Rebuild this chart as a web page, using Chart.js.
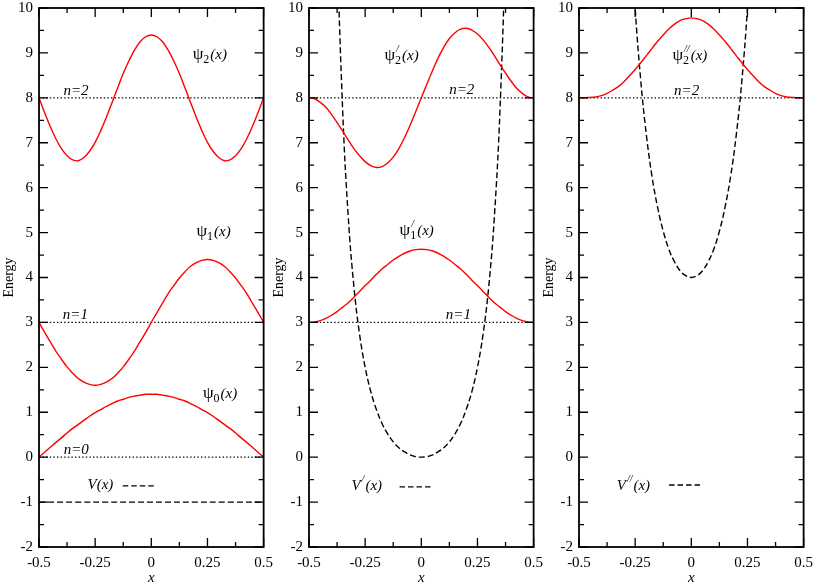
<!DOCTYPE html>
<html>
<head>
<meta charset="utf-8">
<script src="https://cdn.jsdelivr.net/npm/chart.js@4.4.1/dist/chart.umd.min.js"></script>
<style>
  html, body { margin: 0; padding: 0; background: #fff; overflow: hidden; width: 817px; height: 584px; }
  .panel { position: absolute; top: -7px; }
</style>
</head>
<body>
<canvas class="panel" id="p1" width="280" height="591" style="left:0px"></canvas>
<canvas class="panel" id="p2" width="280" height="591" style="left:270px"></canvas>
<canvas class="panel" id="p3" width="280" height="591" style="left:540px"></canvas>
<script>
// sample positions, x from -0.5 to 0.5
const xValues = [-0.5, -0.475, -0.45, -0.425, -0.4, -0.375, -0.35, -0.325, -0.3, -0.275, -0.25,
  -0.225, -0.2, -0.175, -0.15, -0.125, -0.1, -0.075, -0.05, -0.025, 0,
  0.025, 0.05, 0.075, 0.1, 0.125, 0.15, 0.175, 0.2, 0.225, 0.25,
  0.275, 0.3, 0.325, 0.35, 0.375, 0.4, 0.425, 0.45, 0.475, 0.5];

// left panel
const psi0 = [0.00, 0.11, 0.22, 0.33, 0.43, 0.54, 0.64, 0.73, 0.82, 0.91, 0.99, 1.06, 1.13, 1.19, 1.25, 1.29, 1.33, 1.36, 1.38, 1.40,
  1.40, 1.40, 1.38, 1.36, 1.33, 1.29, 1.25, 1.19, 1.13, 1.06, 0.99, 0.91, 0.82, 0.73, 0.64, 0.54, 0.43, 0.33, 0.22, 0.11, 0.00];
const psi1 = [3.00, 2.78, 2.57, 2.36, 2.18, 2.01, 1.87, 1.75, 1.67, 1.62, 1.60, 1.62, 1.67, 1.75, 1.87, 2.01, 2.18, 2.36, 2.57, 2.78,
  3.00, 3.22, 3.43, 3.64, 3.82, 3.99, 4.13, 4.25, 4.33, 4.38, 4.40, 4.38, 4.33, 4.25, 4.13, 3.99, 3.82, 3.64, 3.43, 3.22, 3.00];
const psi2 = [8.00, 7.67, 7.36, 7.09, 6.87, 6.71, 6.62, 6.60, 6.67, 6.81, 7.01, 7.27, 7.57, 7.89, 8.22, 8.54, 8.82, 9.06, 9.25, 9.36,
  9.40, 9.36, 9.25, 9.06, 8.82, 8.54, 8.22, 7.89, 7.57, 7.27, 7.01, 6.81, 6.67, 6.60, 6.62, 6.71, 6.87, 7.09, 7.36, 7.67, 8.00];
const potV = [-1, -1];          // flat well floor, drawn at the two ends
const potVX = [-0.5, 0.5];

// middle panel
const psiP1 = [3.00, 3.01, 3.04, 3.09, 3.16, 3.24, 3.34, 3.44, 3.56, 3.69, 3.82, 3.94, 4.07, 4.19, 4.29, 4.39, 4.47, 4.54, 4.59, 4.62,
  4.63, 4.62, 4.59, 4.54, 4.47, 4.39, 4.29, 4.19, 4.07, 3.94, 3.82, 3.69, 3.56, 3.44, 3.34, 3.24, 3.16, 3.09, 3.04, 3.01, 3.00];
const psiP2 = [8.00, 7.98, 7.90, 7.79, 7.63, 7.45, 7.26, 7.06, 6.87, 6.71, 6.58, 6.49, 6.45, 6.47, 6.55, 6.68, 6.87, 7.11, 7.39, 7.69,
  8.00, 8.31, 8.61, 8.89, 9.13, 9.32, 9.45, 9.53, 9.55, 9.51, 9.42, 9.29, 9.13, 8.94, 8.74, 8.55, 8.37, 8.21, 8.10, 8.02, 8.00];
const potVP = [null, null, null, null, 18.94, 11.66, 7.70, 5.33, 3.79, 2.74, 2.00, 1.46, 1.06, 0.75, 0.52, 0.34, 0.21, 0.12, 0.05, 0.01,
  0.00, 0.01, 0.05, 0.12, 0.21, 0.34, 0.52, 0.75, 1.06, 1.46, 2.00, 2.74, 3.79, 5.33, 7.70, 11.66, 18.94, null, null, null, null];

// right panel
const psiPP2 = [8.00, 8.00, 8.01, 8.02, 8.05, 8.10, 8.17, 8.25, 8.36, 8.49, 8.63, 8.78, 8.94, 9.10, 9.26, 9.40, 9.53, 9.64, 9.72, 9.76,
  9.78, 9.76, 9.72, 9.64, 9.53, 9.40, 9.26, 9.10, 8.94, 8.78, 8.63, 8.49, 8.36, 8.25, 8.17, 8.10, 8.05, 8.02, 8.01, 8.00, 8.00];
const potVPP = [null, null, null, null, null, null, null, null, 15.37, 12.22, 10.00, 8.38, 7.17, 6.25, 5.56, 5.03, 4.63, 4.35, 4.15, 4.04,
  4.00, 4.04, 4.15, 4.35, 4.63, 5.03, 5.56, 6.25, 7.17, 8.38, 10.00, 12.22, 15.37, null, null, null, null, null, null, null, null];

// energy levels per panel
const levels1 = [0, 3, 8];
const levels2 = [3, 8];
const levels3 = [8];

// axis ticks
const xMajorTicks = [-0.5, -0.25, 0, 0.25, 0.5];
const xMinorTicks = [-0.375, -0.125, 0.125, 0.375];
const yMajorTicks = [-2, -1, 0, 1, 2, 3, 4, 5, 6, 7, 8, 9, 10];
const yMinorTicks = [-1.5, -0.5, 0.5, 1.5, 2.5, 3.5, 4.5, 5.5, 6.5, 7.5, 8.5, 9.5];

const SERIF = 'Liberation Serif';
Chart.defaults.font.family = SERIF;
Chart.defaults.color = '#000';

function curve(values, xs, color, dash) {
  return {
    data: xs.map((x, i) => ({ x: x, y: values[i] })),
    borderColor: color,
    borderWidth: 1.4,
    borderDash: dash || [],
    pointRadius: 0,
    tension: 0.4,
    fill: false
  };
}

function levelLine(v) {
  return {
    data: [{ x: -0.5, y: v }, { x: 0.5, y: v }],
    borderColor: '#000',
    borderWidth: 1.3,
    borderDash: [1.4, 2.2],
    pointRadius: 0,
    fill: false
  };
}

// draw a label built from pieces: normal / italic / sub+sup stacked
function drawRich(ctx, x, y, parts) {
  let cx = x;
  parts.forEach(p => {
    if (p.n) {
      ctx.font = '17px "' + SERIF + '"';
      ctx.fillText(p.n, cx, y);
      cx += ctx.measureText(p.n).width;
    } else if (p.i) {
      ctx.font = 'italic 15px "' + SERIF + '"';
      ctx.fillText(p.i, cx, y);
      cx += ctx.measureText(p.i).width;
    } else {
      let w = 0;
      if (p.sup) {
        ctx.font = 'italic 10px "' + SERIF + '"';
        ctx.fillText(p.sup, cx + 1, y - 8);
        w = Math.max(w, ctx.measureText(p.sup).width + 1);
      }
      if (p.sub) {
        ctx.font = '12px "' + SERIF + '"';
        ctx.fillText(p.sub, cx, y + 4);
        w = Math.max(w, ctx.measureText(p.sub).width);
      }
      cx += w + 1;
    }
  });
}

const framePlugin = {
  id: 'frameNotes',
  afterDatasetsDraw(chart) {
    const ctx = chart.ctx;
    const a = chart.chartArea;
    const xs = chart.scales.x, ys = chart.scales.y;
    ctx.save();
    ctx.strokeStyle = '#000';
    ctx.lineWidth = 1.8;
    ctx.strokeRect(a.left, a.top, a.right - a.left, a.bottom - a.top);

    ctx.lineWidth = 1.3;
    ctx.beginPath();
    const tick = (vals, len) => {
      vals.forEach(v => {
        const px = xs.getPixelForValue(v);
        ctx.moveTo(px, a.bottom); ctx.lineTo(px, a.bottom - len);
        ctx.moveTo(px, a.top); ctx.lineTo(px, a.top + len);
      });
    };
    const ytick = (vals, len) => {
      vals.forEach(v => {
        const py = ys.getPixelForValue(v);
        ctx.moveTo(a.left, py); ctx.lineTo(a.left + len, py);
        ctx.moveTo(a.right, py); ctx.lineTo(a.right - len, py);
      });
    };
    tick(xMajorTicks, 9); tick(xMinorTicks, 5);
    ytick(yMajorTicks, 9); ytick(yMinorTicks, 5);
    ctx.stroke();

    const notes = chart.options.plugins.frameNotes.notes;
    ctx.fillStyle = '#000';
    ctx.textBaseline = 'alphabetic';
    ctx.textAlign = 'left';
    notes.forEach(n => {
      const px = xs.getPixelForValue(n.x), py = ys.getPixelForValue(n.y);
      if (n.parts) drawRich(ctx, px, py, n.parts);
      if (n.dash) {
        ctx.beginPath();
        ctx.setLineDash([5.5, 3]);
        ctx.lineWidth = 1.3;
        const dy = ys.getPixelForValue(n.dash[2]);
        ctx.moveTo(xs.getPixelForValue(n.dash[0]), dy);
        ctx.lineTo(xs.getPixelForValue(n.dash[1]), dy);
        ctx.stroke();
        ctx.setLineDash([]);
      }
    });
    ctx.restore();
  }
};

function makePanel(id, datasets, notes) {
  new Chart(document.getElementById(id), {
    type: 'line',
    data: { datasets: datasets },
    options: {
      responsive: false,
      animation: false,
      layout: { padding: { top: 10, right: 15, left: 0, bottom: 0 } },
      plugins: {
        legend: { display: false },
        tooltip: { enabled: false },
        frameNotes: { notes: notes }
      },
      scales: {
        x: {
          type: 'linear',
          min: -0.5, max: 0.5,
          grid: { display: false, drawTicks: false },
          border: { display: false },
          ticks: { stepSize: 0.25, padding: 7, font: { family: SERIF, size: 15 }, maxRotation: 0,
            callback: v => String(v) },
          title: { display: true, text: 'x', font: { family: SERIF, size: 15, style: 'italic', lineHeight: 1 },
            padding: { top: 0, bottom: -2 } },
          afterFit: s => { s.height = 37; }
        },
        y: {
          min: -2, max: 10,
          grid: { display: false, drawTicks: false },
          border: { display: false },
          ticks: { stepSize: 1, padding: 6, font: { family: SERIF, size: 15 } },
          title: { display: true, text: 'Energy', font: { family: SERIF, size: 14 }, padding: { top: 1, bottom: 0 } },
          afterFit: s => { s.width = 39; }
        }
      }
    },
    plugins: [framePlugin]
  });
}

const RED = '#ff0000';
const DASH = [6, 3];

makePanel('p1',
  [curve(psi0, xValues, RED), curve(psi1, xValues, RED), curve(psi2, xValues, RED),
   curve(potV, potVX, '#000', DASH)].concat(levels1.map(levelLine)),
  [
    { x: 0.184, y: 8.86, parts: [{ n: 'ψ' }, { sub: '2' }, { i: '(x)' }] },
    { x: -0.391, y: 8.07, parts: [{ i: 'n=2' }] },
    { x: 0.201, y: 4.93, parts: [{ n: 'ψ' }, { sub: '1' }, { i: '(x)' }] },
    { x: -0.394, y: 3.08, parts: [{ i: 'n=1' }] },
    { x: 0.23, y: 1.31, parts: [{ n: 'ψ' }, { sub: '0' }, { i: '(x)' }] },
    { x: -0.39, y: 0.08, parts: [{ i: 'n=0' }] },
    { x: -0.284, y: -0.71, parts: [{ i: 'V(x)' }], dash: [-0.127, 0.012, -0.64] }
  ]);

makePanel('p2',
  [curve(psiP1, xValues, RED), curve(psiP2, xValues, RED),
   curve(potVP, xValues, '#000', DASH)].concat(levels2.map(levelLine)),
  [
    { x: -0.164, y: 8.84, parts: [{ n: 'ψ' }, { sup: '/', sub: '2' }, { i: '(x)' }] },
    { x: 0.124, y: 8.08, parts: [{ i: 'n=2' }] },
    { x: -0.097, y: 4.95, parts: [{ n: 'ψ' }, { sup: '/', sub: '1' }, { i: '(x)' }] },
    { x: 0.109, y: 3.08, parts: [{ i: 'n=1' }] },
    { x: -0.311, y: -0.73, parts: [{ i: 'V' }, { sup: '/' }, { i: '(x)' }], dash: [-0.097, 0.046, -0.66] }
  ]);

makePanel('p3',
  [curve(psiPP2, xValues, RED), curve(potVPP, xValues, '#000', DASH)].concat(levels3.map(levelLine)),
  [
    { x: -0.084, y: 8.84, parts: [{ n: 'ψ' }, { sup: '//', sub: '2' }, { i: '(x)' }] },
    { x: -0.077, y: 8.06, parts: [{ i: 'n=2' }] },
    { x: -0.332, y: -0.73, parts: [{ i: 'V' }, { sup: '//' }, { i: '(x)' }], dash: [-0.099, 0.044, -0.62] }
  ]);
</script>
</body>
</html>
